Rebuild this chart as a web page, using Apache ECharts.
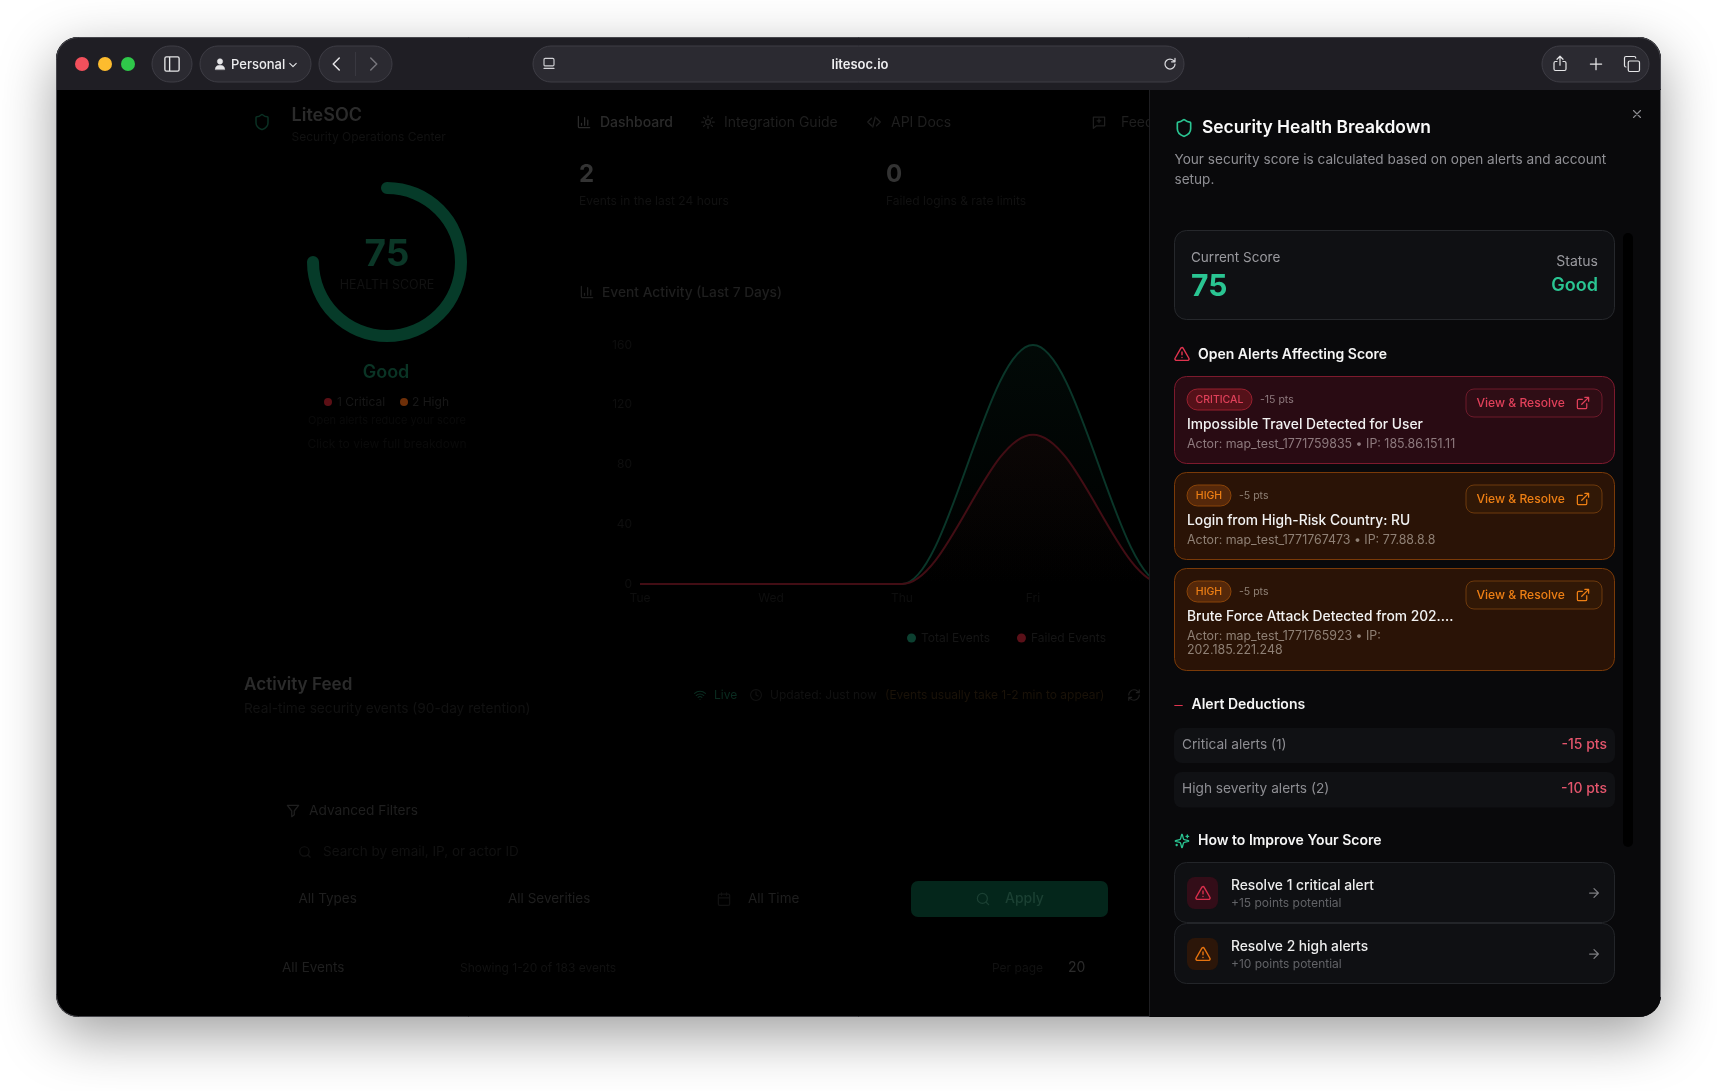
<!DOCTYPE html>
<html><head><meta charset="utf-8"><title>LiteSOC</title>
<style>html,body{margin:0;padding:0;background:#fff;overflow:hidden}#c{width:1717px;height:1091px}</style>
<script src="https://cdn.jsdelivr.net/npm/echarts@6/dist/echarts.min.js"></script></head>
<body><div id="c"></div>
<script>
const categories = ['Tue','Wed','Thu','Fri','Sat','Sun','Mon'];
const totalEvents = [0,0,0,160,0,0,0];
const failedEvents = [0,0,0,100,0,0,0];
const yTicks = [0,40,80,120,160];
const healthScore = 75;
const seriesNames = ['Total Events','Failed Events'];

const FONT = 'Inter, "Noto Sans", sans-serif';
const P = {
  shield:'M20 13c0 5-3.5 7.5-7.66 8.95a1 1 0 0 1-.67-.01C7.5 20.5 4 18 4 13V6a1 1 0 0 1 1-1c2 0 4.5-1.2 6.24-2.72a1.17 1.17 0 0 1 1.52 0C14.51 3.81 17 5 19 5a1 1 0 0 1 1 1z',
  alert:'M21.73 18l-8-14a2 2 0 0 0-3.48 0l-8 14A2 2 0 0 0 4 21h16a2 2 0 0 0 1.73-3zM12 9v4M12 17h.01',
  ext:'M15 3h6v6M10 14L21 3M18 13v6a2 2 0 0 1-2 2H5a2 2 0 0 1-2-2V8a2 2 0 0 1 2-2h6',
  arrow:'M5 12h14M12 5l7 7-7 7',
  x:'M18 6L6 18M6 6l12 12',
  minus:'M5 12h14',
  spark:'M9.937 15.5A2 2 0 0 0 8.5 14.063l-6.135-1.582a.5.5 0 0 1 0-.962L8.5 9.936A2 2 0 0 0 9.937 8.5l1.582-6.135a.5.5 0 0 1 .963 0L14.063 8.5A2 2 0 0 0 15.5 9.937l6.135 1.581a.5.5 0 0 1 0 .964L15.5 14.063a2 2 0 0 0-1.437 1.437l-1.582 6.135a.5.5 0 0 1-.963 0zM20 3v4M22 5h-4M4 17v2M5 18H3',
  chart:'M3 3v16a2 2 0 0 0 2 2h16M18 17V9M13 17V5M8 17v-3',
  gear:'M12 8a4 4 0 1 1 0 8 4 4 0 0 1 0-8zM12 2v3M12 19v3M2 12h3M19 12h3M5 5l2 2M17 17l2 2M5 19l2-2M17 7l2-2',
  code:'M8 6l-6 6 6 6M16 6l6 6-6 6M14 4l-4 16',
  msg:'M3 4h18v14H8l-5 4zM12 7v6M9 10h6',
  funnel:'M3 3h18l-7 9v6l-4 3v-9z',
  search:'M19 11a8 8 0 1 1-16 0 8 8 0 0 1 16 0zM21 21l-4.3-4.3',
  cal:'M8 2v4M16 2v4M5 4h14a2 2 0 0 1 2 2v14a2 2 0 0 1-2 2H5a2 2 0 0 1-2-2V6a2 2 0 0 1 2-2zM3 10h18',
  wifi:'M2 9a15 15 0 0 1 20 0M5 13a10 10 0 0 1 14 0M8.5 16.5a5 5 0 0 1 7 0M12 20h.01',
  clock:'M22 12a10 10 0 1 1-20 0 10 10 0 0 1 20 0zM12 6v6l4 2',
  refresh:'M3 12a9 9 0 0 1 15-6.7L21 8M21 3v5h-5M21 12a9 9 0 0 1-15 6.7L3 16M3 21v-5h5',
  sidebar:'M5 3h14a2 2 0 0 1 2 2v14a2 2 0 0 1-2 2H5a2 2 0 0 1-2-2V5a2 2 0 0 1 2-2zM9 3v18',
  chevD:'M6 9l6 6 6-6', chevL:'M15 4l-8 8 8 8', chevR:'M9 4l8 8-8 8',
  page:'M6 3h12a2 2 0 0 1 2 2v8a2 2 0 0 1-2 2H6a2 2 0 0 1-2-2V5a2 2 0 0 1 2-2zM4 19h16',
  reload:'M20 12a8 8 0 1 1-2.5-5.8L20 8.5M20 3v5.5h-5.5',
  share:'M12 15V3M8 7l4-4 4 4M8 10H6a2 2 0 0 0-2 2v8a2 2 0 0 0 2 2h12a2 2 0 0 0 2-2v-8a2 2 0 0 0-2-2h-2',
  plus:'M12 3v18M3 12h18',
  tabs:'M9 8h11a2 2 0 0 1 2 2v10a2 2 0 0 1-2 2H9a2 2 0 0 1-2-2V10a2 2 0 0 1 2-2zM4 16a2 2 0 0 1-2-2V4a2 2 0 0 1 2-2h11a2 2 0 0 1 2 2',
  person:'M12 12a4.5 4.5 0 1 0 0-9 4.5 4.5 0 0 0 0 9zM4 21c0-5 3.5-7 8-7s8 2 8 7z'
};
Object.keys(P).forEach(function(k){echarts.graphic.registerShape('ic_'+k,echarts.graphic.extendPath(P[k]));});
const els = [];
function R(x1,y1,x2,y2,r,fill,stroke,z,extra){els.push({type:'rect',z:z,silent:true,shape:{x:x1,y:y1,width:x2-x1,height:y2-y1,r:r},style:Object.assign({fill:fill,stroke:stroke||null,lineWidth:stroke?1:0},extra||{})});}
function T(x,y,text,size,color,weight,z,align){els.push({type:'text',z:z,silent:true,x:x,y:y+1,style:{text:text,fill:color,font:(weight||400)+' '+size+'px '+FONT,textAlign:align||'left',textVerticalAlign:'middle',verticalAlign:'middle'}});}
function I(name,cx,cy,size,color,z,sw,fill){const s=size/24;els.push({type:'ic_'+name,z:z,silent:true,x:cx-size/2,y:cy-size/2,scaleX:s,scaleY:s,style:{fill:fill||'none',stroke:color,lineWidth:sw||2,lineCap:'round',lineJoin:'round'}});}
function C(cx,cy,r,fill,z){els.push({type:'circle',z:z,silent:true,shape:{cx:cx,cy:cy,r:r},style:{fill:fill}});}

/* window */
const Lw=56,Tw=37,Rw=1661,Bw=1017;
R(Lw,Tw,Rw,Bw,22,'#000',null,0,{shadowBlur:55,shadowColor:'rgba(0,0,0,0.38)',shadowOffsetY:18});
R(Lw,Tw,Rw,90,[22,22,0,0],'#1f1e24',null,0);
R(Lw+.5,Tw+.5,Rw-.5,Bw-.5,22,'none','#45454b',1);
C(82,64,7,'#f2505c',1);C(105,64,7,'#fdbc2e',1);C(128,64,7,'#2fc84a',1);
R(152,46,192,82,18,'#2b2a31','#3e3d45',1);
I('sidebar',172,64,19,'#e6e6e8',1,1.7);
R(200,46,311,82,18,'#2b2a31','#3e3d45',1);
I('person',220,64,14,'#e6e6e8',1,1,'#e6e6e8');
T(231,64,'Personal',13,'#ececee',500,1);
I('chevD',293,65,13,'#e6e6e8',1,2);
R(319,46,392,82,18,'#2b2a31','#3e3d45',1);
I('chevL',337,64,18,'#e6e6e8',1,2);
I('chevR',373,64,18,'#77767c',1,2);
R(355,52,355.8,76,0,'#3e3d45',null,1);
R(533,46,1184,82,18,'#2b2a31','#3e3d45',1);
I('page',549,64,15,'#d0d0d4',1,1.8);
T(860,64,'litesoc.io',13,'#f0f0f2',600,1,'center');
I('reload',1170,64,15,'#d8d8dc',1,2);
R(1542,46,1649,82,18,'#2b2a31','#3e3d45',1);
I('share',1560,63,18,'#e6e6e8',1,1.6);
I('plus',1596,64,15,'#e6e6e8',1,2);
I('tabs',1632,64,18,'#e6e6e8',1,1.6);

/* dimmed dashboard */
const D1='#2b2b2b',D2='#1f1f1f',D3='#111111',GR='#0a3425';
I('shield',262,122,18,'#0a3023',1,2);
T(291.5,115,'LiteSOC',18,D1,600,1);
T(291.5,136,'Security Operations Center',12,D3,400,1);
I('chart',584,122,15,D1,1,2); T(600,122,'Dashboard',14,D1,500,1);
I('gear',708,122,15,D2,1,2); T(724,122,'Integration Guide',14,D2,400,1);
I('code',874,122,15,D2,1,2); T(891,122,'API Docs',14,D2,400,1);
I('msg',1099,122,15,D2,1,2); T(1121,122,'Feedback',14,D2,400,1);
T(579,174,'2',24,'#333',700,1); T(579,200,'Events in the last 24 hours',12,D3,400,1);
T(886,174,'0',24,'#333',700,1); T(886,200,'Failed logins & rate limits',12,D3,400,1);
I('chart',587,292,15,D2,1,2); T(602,292,'Event Activity (Last 7 Days)',13.75,D2,500,1);
T(386,372,'Good',18,GR,600,1,'center');
C(328,402,4,'#5c0f15',1); T(337,401,'1 Critical',12,'#171717',400,1);
C(404,402,4,'#6e2f08',1); T(412,401,'2 High',12,'#171717',400,1);
T(387,420,'Open alerts reduce your score',11,'#0a0a0a',400,1,'center');
T(387,443,'Click to view full breakdown',12,'#0a0a0a',400,1,'center');
T(244,684,'Activity Feed',17.1,D1,600,1); T(244,708,'Real-time security events (90-day retention)',13.7,D3,400,1);
I('wifi',700,695,13,'#0a2c20',1,2); T(714,694,'Live',12,'#0a2c20',400,1);
I('clock',756,695,13,D3,1,2); T(770,694,'Updated: Just now',12,D3,400,1);
T(885,694,'(Events usually take 1-2 min to appear)',12,'#1a1208',400,1);
I('refresh',1134,695,14,D2,1,2);
I('funnel',293,811,15,D2,1,2); T(309,810,'Advanced Filters',13.7,D2,400,1);
I('search',305,852,14,D3,1,2); T(323,851,'Search by email, IP, or actor ID',13.5,D3,400,1);
T(298.5,898,'All Types',13.5,D2,400,1); T(508,898,'All Severities',13.5,D2,400,1);
I('cal',724,899,15,D3,1,2); T(748,898,'All Time',13.5,D2,400,1);
R(911,881,1108,917,7,'#04261b',null,1); I('search',983,899,15,'#1b4033',1,2); T(1005,898,'Apply',14,'#1b4033',500,1);
T(282,967,'All Events',13.5,D2,400,1); T(460,967,'Showing 1-20 of 183 events',12,D3,400,1);
T(992,967,'Per page',12,D3,400,1); T(1068,967,'20',14,D1,400,1);

/* side panel (above series) */
const Z=20, GRN='#2ac592', RED='#e0344f', REDSOFT='#e4556c';
R(1149,89,Rw,Bw,[0,0,22,0],'#09090b',null,Z);
R(Lw+300,89,Rw,90,0,'#1f1e24',null,Z);
R(1149,90,1150,Bw,0,'#1e1e21',null,Z);
R(Rw-1,90,Rw,Bw-20,0,'#6a6a6e',null,Z);
R(1623,233,1633,847,5,'#000',null,Z);
I('x',1637,114,14,'#8c8c90',Z,2);
I('shield',1184,128,20,GRN,Z,2);
T(1202,127,'Security Health Breakdown',17.4,'#fafafa',600,Z);
T(1174.5,159,'Your security score is calculated based on open alerts and account',13.6,'#8f8f94',400,Z);
T(1174.5,179,'setup.',13.6,'#8f8f94',400,Z);
R(1174.5,230.5,1614.5,319.5,12,'#0f1013','#26282c',Z);
T(1191,257,'Current Score',13.5,'#9a9a9f',400,Z);
T(1191,286,String(healthScore),30,GRN,700,Z);
T(1598,261,'Status',14,'#9a9a9f',400,Z,'right');
T(1598,285,'Good',18,GRN,600,Z,'right');
I('alert',1182,354,17,RED,Z,2);
T(1198,354,'Open Alerts Affecting Score',14,'#f5f5f5',600,Z);

function alertCard(y1,y2,b1,lbl,bw,pts,title,a1,a2,col,bg,bd,bgBadge,bdBadge,muted,bdBtn,bgBtn){
  R(1174.5,y1+.5,1614.5,y2+.5,12,bg,bd,Z);
  R(1187,b1,1187+bw,b1+21,10.5,bgBadge,bdBadge,Z);
  T(1187+bw/2,b1+9.5,lbl,10.5,col,500,Z,'center');
  T(1187+bw+8,b1+9.5,pts,10.5,muted,400,Z);
  R(1466,b1,1602,b1+28,8,bgBtn,bdBtn,Z);
  T(1476.5,b1+13.5,'View & Resolve',12.1,col,500,Z);
  I('ext',1583,b1+14,15,col,Z,2);
  T(1187,b1+34.5,title,13.8,'#f2f2f2',500,Z);
  T(1187,b1+54,a1,12.4,muted,400,Z);
  if(a2) T(1187,b1+68,a2,12.4,muted,400,Z);
}
const cr=['#e0405a','#290b13','#7d1a2d','#551119','#98202f','#8e7a7e','#6e1b2b','#2f0d15'];
const hi=['#ee7f14','#2a1306','#7a3a08','#55280a','#8a4409','#8f8075','#6e3a0c','#311806'];
alertCard(376,463,389,'CRITICAL',65,'-15 pts','Impossible Travel Detected for User','Actor: map_test_1771759835 • IP: 185.86.151.11',null,cr[0],cr[1],cr[2],cr[3],cr[4],cr[5],cr[6],cr[7]);
alertCard(472,559,485,'HIGH',44,'-5 pts','Login from High-Risk Country: RU','Actor: map_test_1771767473 • IP: 77.88.8.8',null,hi[0],hi[1],hi[2],hi[3],hi[4],hi[5],hi[6],hi[7]);
alertCard(568,670,581,'HIGH',44,'-5 pts','Brute Force Attack Detected from 202....','Actor: map_test_1771765923 • IP:','202.185.221.248',hi[0],hi[1],hi[2],hi[3],hi[4],hi[5],hi[6],hi[7]);

I('minus',1178.5,705.5,13,RED,Z,2);
T(1191.5,704,'Alert Deductions',14,'#f5f5f5',600,Z);
R(1174,728,1615,763,8,'#101114',null,Z);
T(1182,744,'Critical alerts (1)',13.7,'#8e8e93',400,Z); T(1607,744,'-15 pts',14,REDSOFT,500,Z,'right');
R(1174,772,1615,807.5,8,'#101114',null,Z);
T(1182,788,'High severity alerts (2)',13.7,'#8e8e93',400,Z); T(1607,788,'-10 pts',14,REDSOFT,500,Z,'right');
I('spark',1182,841,16,GRN,Z,2);
T(1198,840,'How to Improve Your Score',14,'#f5f5f5',600,Z);

function tip(y1,y2,ib,title,sub,col,bg){
  R(1174.5,y1+.5,1614.5,y2+.5,12,'#0f1013','#232529',Z);
  R(1187,ib,1218,ib+32,8,bg,null,Z);
  I('alert',1203,ib+16,17,col,Z,2);
  T(1231,ib+8,title,13.8,'#ededed',500,Z);
  T(1231,ib+25.5,sub,12,'#626367',400,Z);
  I('arrow',1594,ib+16,15,'#7c7c80',Z,2);
}
tip(862,922,877,'Resolve 1 critical alert','+15 points potential','#d92f4c','#330d18');
tip(923,983,938,'Resolve 2 high alerts','+10 points potential','#e8740f','#2c1609');

const chart = echarts.init(document.getElementById('c'),null,{renderer:'canvas',width:1717,height:1091});
chart.setOption({
  animation:false,
  backgroundColor:'#ffffff',
  textStyle:{fontFamily:FONT},
  graphic:{elements:els},
  legend:{data:seriesNames,left:902,top:627,icon:'circle',itemWidth:9,itemHeight:9,itemGap:27,selectedMode:false,
    textStyle:{color:'#151515',fontSize:12,fontFamily:FONT}},
  grid:{left:640,top:345,width:786,height:239,containLabel:false},
  xAxis:{type:'category',boundaryGap:false,data:categories,axisLine:{show:false},axisTick:{show:false},splitLine:{show:false},
    axisLabel:{color:'#0e0e0e',fontSize:12,margin:8,interval:0,fontFamily:FONT}},
  yAxis:{type:'value',min:yTicks[0],max:yTicks[yTicks.length-1],interval:yTicks[1]-yTicks[0],axisLine:{show:false},axisTick:{show:false},splitLine:{show:false},
    axisLabel:{color:'#0e0e0e',fontSize:12,margin:8,fontFamily:FONT}},
  series:[
    {name:seriesNames[0],type:'line',data:totalEvents,smooth:0.35,smoothMonotone:'x',showSymbol:false,z:3,
     itemStyle:{color:'#0c4030'},lineStyle:{color:'#0a3629',width:2},
     areaStyle:{color:new echarts.graphic.LinearGradient(0,0,0,1,[{offset:0,color:'rgba(7,34,25,0.4)'},{offset:1,color:'rgba(7,34,25,0)'}])}},
    {name:seriesNames[1],type:'line',data:failedEvents,smooth:0.35,smoothMonotone:'x',showSymbol:false,z:4,
     itemStyle:{color:'#5a1018'},lineStyle:{color:'#420d14',width:2},
     areaStyle:{color:new echarts.graphic.LinearGradient(0,0,0,1,[{offset:0,color:'rgba(38,7,8,0.4)'},{offset:1,color:'rgba(38,7,8,0)'}])}},
    {type:'gauge',center:[387,262],radius:80,min:0,max:100,startAngle:90,endAngle:-270,z:3,
     pointer:{show:false},anchor:{show:false},axisTick:{show:false},splitLine:{show:false},axisLabel:{show:false},
     axisLine:{show:true,lineStyle:{width:12,color:[[1,'rgba(0,0,0,0)']]}},
     progress:{show:true,width:12,roundCap:true,itemStyle:{color:'#063b29'}},
     title:{show:true,offsetCenter:[0,23],color:'#111111',fontSize:12.5,fontFamily:FONT},
     detail:{show:true,offsetCenter:[0,-7],color:'#0b3727',fontSize:37,fontWeight:700,fontFamily:FONT,valueAnimation:false,formatter:'{value}'},
     data:[{value:healthScore,name:'HEALTH SCORE'}]}
  ]
});
</script></body></html>
